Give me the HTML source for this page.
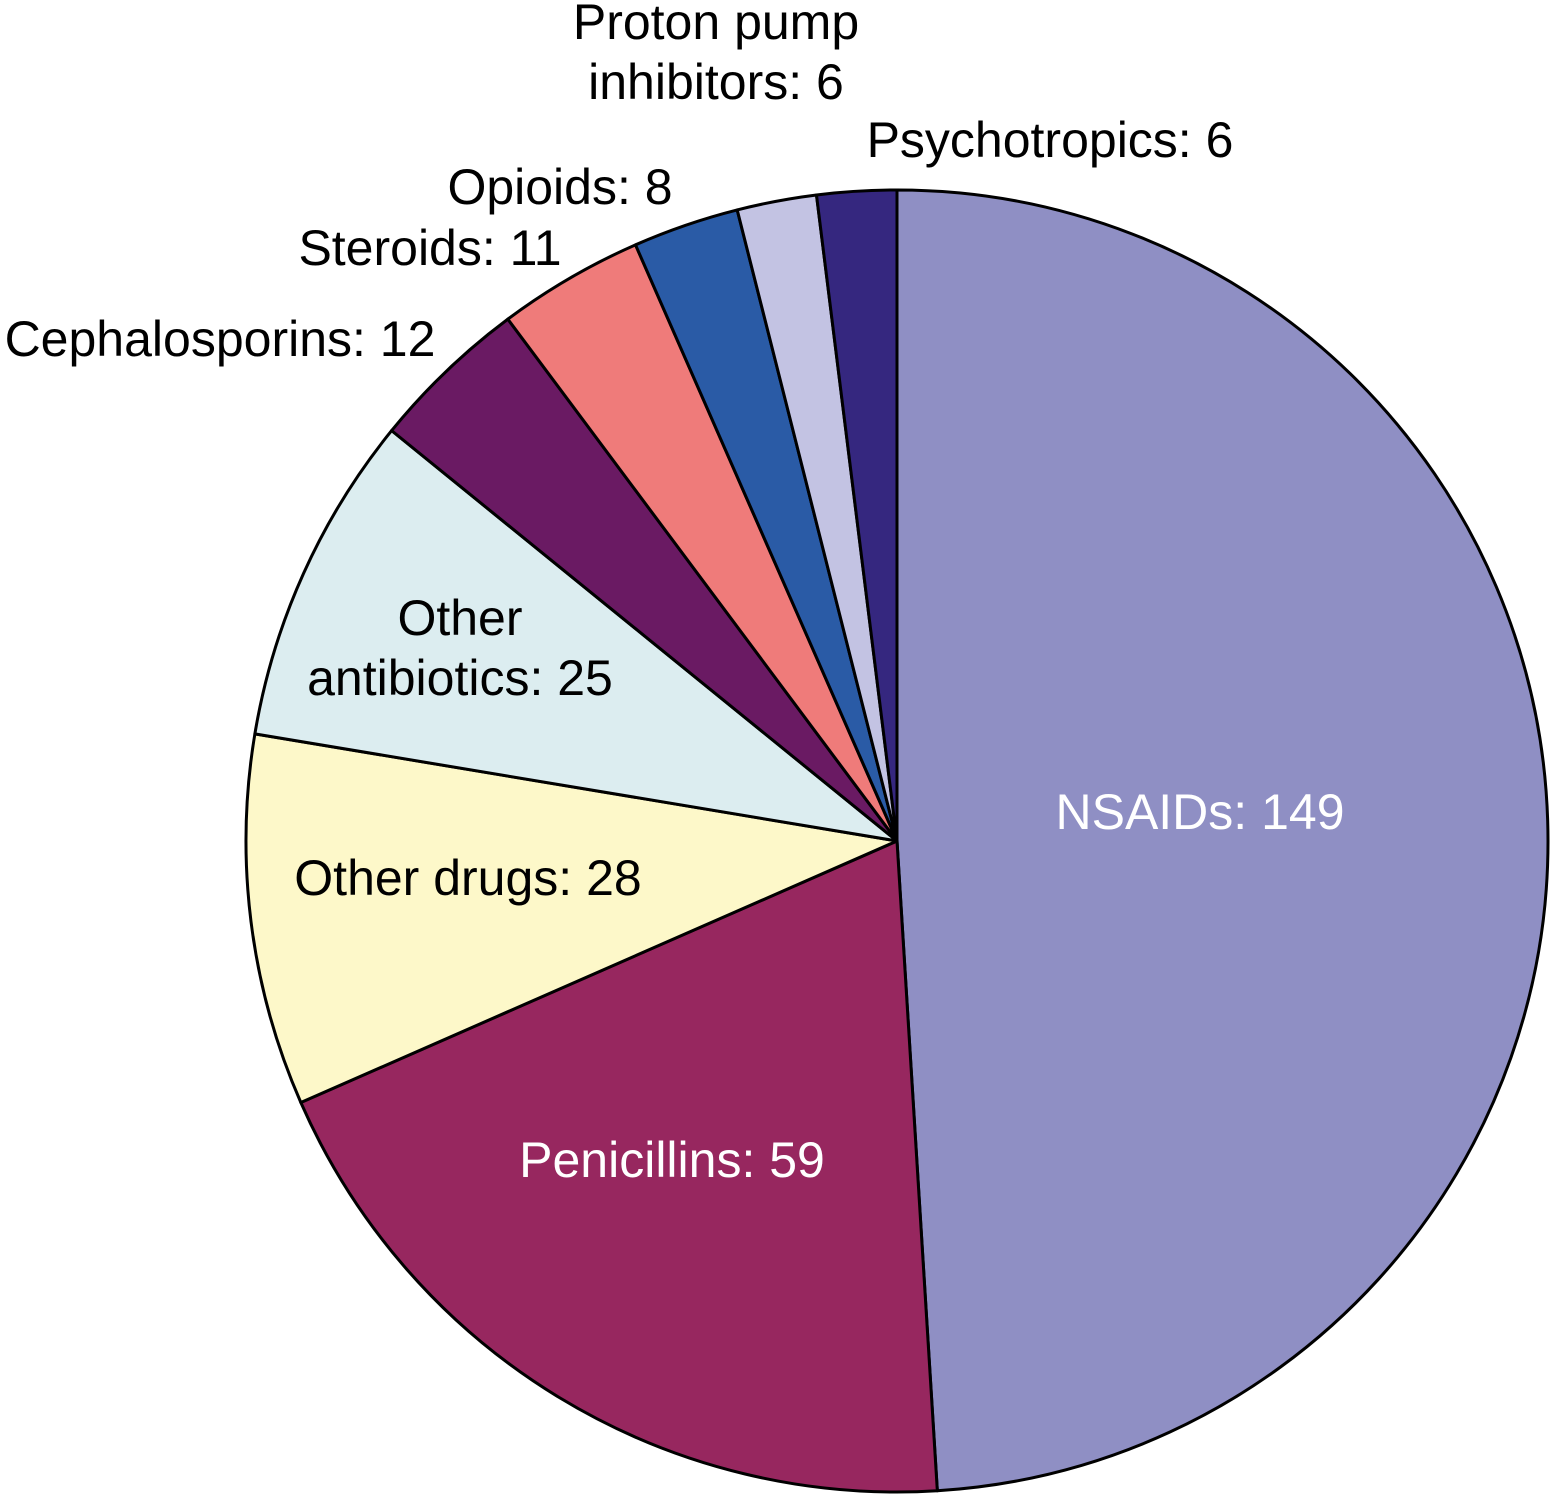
<!DOCTYPE html>
<html><head><meta charset="utf-8"><style>
html,body{margin:0;padding:0;background:#fff;}
svg{display:block;}
text{font-family:"Liberation Sans",sans-serif;font-size:50px;}
</style></head><body>
<svg id="chart" width="1550" height="1494" viewBox="0 0 1550 1494"></svg>
<script>
const categories = ["NSAIDs","Penicillins","Other drugs","Other antibiotics","Cephalosporins","Steroids","Opioids","Proton pump inhibitors","Psychotropics"];
const values = [149,59,28,25,12,11,8,6,6];
const colors = ["#8f8fc4","#97275f","#fdf8c9","#dcedf0","#6a1a63","#ef7b7a","#2a5ba6","#c3c3e3","#35277f"];
const labelLines = [["NSAIDs: 149"],["Penicillins: 59"],["Other drugs: 28"],["Other","antibiotics: 25"],["Cephalosporins: 12"],["Steroids: 11"],["Opioids: 8"],["Proton pump","inhibitors: 6"],["Psychotropics: 6"]];
const labelPos = [[1200,812,"#fff"],[672,1160,"#fff"],[468,878,"#000"],[460,618,"#000"],[220,339,"#000"],[430,248,"#000"],[560,187,"#000"],[716,22,"#000"],[1050,140,"#000"]];
const cx=897, cy=841, r=651;
const svg=document.getElementById('chart');
const NS="http://www.w3.org/2000/svg";
const total=values.reduce((a,b)=>a+b,0);
let acc=0;
function pt(a){return [cx+r*Math.sin(a), cy-r*Math.cos(a)];}
values.forEach((v,i)=>{
  const a0=acc/total*2*Math.PI; acc+=v; const a1=acc/total*2*Math.PI;
  const p0=pt(a0), p1=pt(a1);
  const large=(a1-a0)>Math.PI?1:0;
  const path=document.createElementNS(NS,'path');
  path.setAttribute('d',`M${cx},${cy} L${p0[0]},${p0[1]} A${r},${r} 0 ${large} 1 ${p1[0]},${p1[1]} Z`);
  path.setAttribute('fill',colors[i]);
  path.setAttribute('stroke','#000');
  path.setAttribute('stroke-width','3');
  path.setAttribute('stroke-linejoin','round');
  
  
  svg.appendChild(path);
});
labelLines.forEach((lines,i)=>{
  const t=document.createElementNS(NS,'text');
  t.setAttribute('x',labelPos[i][0]);
  t.setAttribute('y',labelPos[i][1]);
  t.setAttribute('fill',labelPos[i][2]);
  t.setAttribute('text-anchor','middle');
  t.setAttribute('dominant-baseline','central');
  
  
  lines.forEach((ln,j)=>{
    const s=document.createElementNS(NS,'tspan');
    s.setAttribute('x',labelPos[i][0]);
    s.setAttribute('dy',j===0?0:60);
    s.textContent=ln;
    t.appendChild(s);
  });
  svg.appendChild(t);
});
</script>
</body></html>
